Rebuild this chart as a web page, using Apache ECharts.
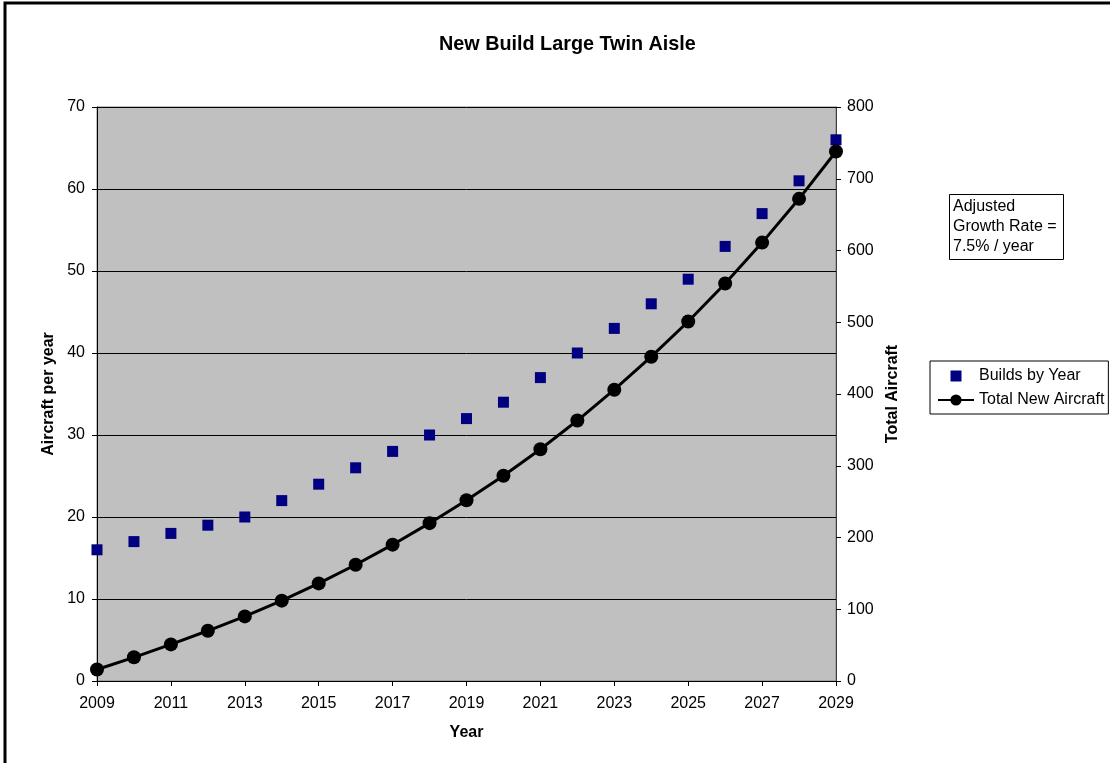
<!DOCTYPE html>
<html><head><meta charset="utf-8">
<script src="https://cdn.jsdelivr.net/npm/echarts@6/dist/echarts.min.js"></script>
<style>html,body{margin:0;padding:0;background:#fff}#c{width:1110px;height:763px}</style>
</head><body><div id="c"></div>
<script>
const years = ['2009','2010','2011','2012','2013','2014','2015','2016','2017','2018','2019','2020','2021','2022','2023','2024','2025','2026','2027','2028','2029'];
const buildsByYear = [16,17,18,19,20,22,24,26,28,30,32,34,37,40,43,46,49,53,57,61,66];
const totalNewAircraft = [16,33,51,70,90,112,136,162,190,220,252,286,323,363,406,452,501,554,611,672,738];
const leftTicks = {min:0,max:70,interval:10};
const rightTicks = {min:0,max:800,interval:100};

const font = 'Liberation Sans, Arial, sans-serif';
const chart = echarts.init(document.getElementById('c'));
chart.setOption({
  animation:false,
  backgroundColor:'#fff',
  textStyle:{fontFamily:font},
  title:{text:'New Build Large Twin Aisle',left:434,top:30,
    textStyle:{fontFamily:font,fontSize:19.8,fontWeight:'bold',color:'#000'}},
  grid:{left:97,top:107,right:274,bottom:82,show:true,backgroundColor:'#c0c0c0',borderColor:'#808080',borderWidth:1},
  legend:{orient:'vertical',left:930,top:361,width:178,padding:[7,4,6,7],itemGap:8,
    borderColor:'#000',borderWidth:1,backgroundColor:'#fff',
    textStyle:{fontFamily:font,fontSize:16,color:'#000'},itemWidth:36,itemHeight:14,
    data:[{name:'Builds by Year',icon:'path://M0,0L0,0M36,14L36,14M12.5,1.5h11v11h-11z',itemStyle:{color:'#000080',opacity:1}},{name:'Total New Aircraft'}]},
  xAxis:{type:'category',data:years,boundaryGap:false,
    name:'Year',nameLocation:'middle',nameGap:44,
    nameTextStyle:{fontFamily:font,fontSize:16,fontWeight:'bold',color:'#000'},
    axisLine:{lineStyle:{color:'#000',width:1}},
    axisTick:{interval:1,length:5,lineStyle:{color:'#000'}},
    axisLabel:{interval:1,margin:15,fontFamily:font,fontSize:16,color:'#000'},
    splitLine:{show:false}},
  yAxis:[
    {type:'value',min:leftTicks.min,max:leftTicks.max,interval:leftTicks.interval,position:'left',
     name:'Aircraft per year',nameLocation:'middle',nameGap:37,
     nameTextStyle:{fontFamily:font,fontSize:16,fontWeight:'bold',color:'#000'},
     axisLine:{show:true,lineStyle:{color:'#000'}},
     axisTick:{show:true,length:5,lineStyle:{color:'#000'}},
     axisLabel:{margin:12,fontFamily:font,fontSize:16,color:'#000'},
     splitLine:{show:true,lineStyle:{color:'#000',width:1}}},
    {type:'value',min:rightTicks.min,max:rightTicks.max,interval:rightTicks.interval,position:'right',
     name:'Total Aircraft',nameLocation:'middle',nameGap:46,nameRotate:90,
     nameTextStyle:{fontFamily:font,fontSize:16,fontWeight:'bold',color:'#000'},
     axisLine:{show:true,lineStyle:{color:'#404040'}},
     axisTick:{show:true,length:5,lineStyle:{color:'#000'}},
     axisLabel:{margin:11,fontFamily:font,fontSize:16,color:'#000'},
     splitLine:{show:false}}
  ],
  series:[
    {name:'Builds by Year',type:'scatter',yAxisIndex:0,data:buildsByYear,symbol:'rect',symbolSize:11,
     itemStyle:{color:'#000080',opacity:1},z:3},
    {name:'Total New Aircraft',type:'line',yAxisIndex:1,data:totalNewAircraft,symbol:'circle',symbolSize:14,
     showAllSymbol:true,lineStyle:{color:'#000',width:3},itemStyle:{color:'#000'},z:4}
  ],
  graphic:[
    {type:'rect',shape:{x:5,y:3,width:1300,height:1000},style:{fill:'none',stroke:'#000',lineWidth:3},silent:true},
    {type:'rect',shape:{x:949.5,y:194.5,width:114,height:65},style:{fill:'#fff',stroke:'#000',lineWidth:1}},
    {type:'text',left:953,top:197,style:{text:'Adjusted\nGrowth Rate =\n7.5% / year',font:'16px '+font,fill:'#000',lineHeight:20}}
  ]
});
</script></body></html>
